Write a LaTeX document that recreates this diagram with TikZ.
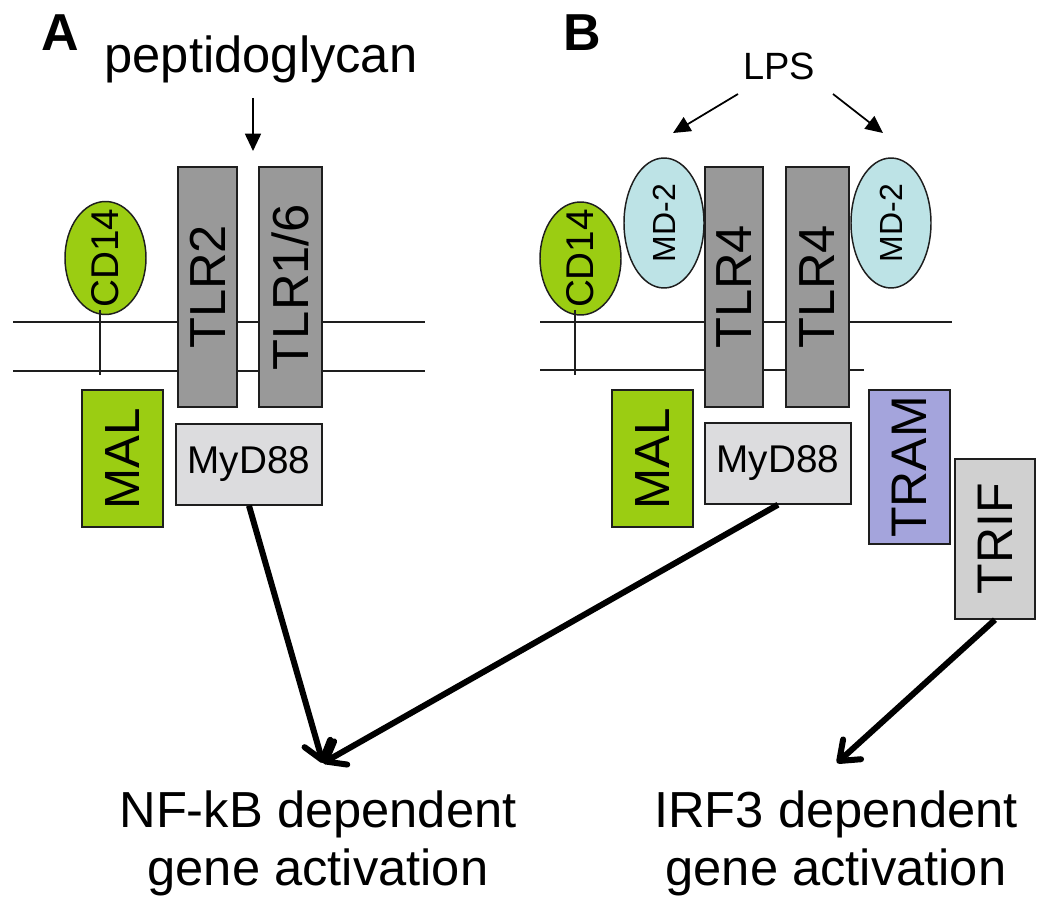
\documentclass[tikz,border=0pt]{standalone}
\usepackage{fontspec}
\setmainfont{Liberation Sans}
\usetikzlibrary{arrows.meta,shapes.geometric}
\definecolor{lime}{RGB}{155,205,18}
\definecolor{tlrgray}{RGB}{153,153,153}
\definecolor{mydgray}{RGB}{220,220,222}
\definecolor{mdcyan}{RGB}{189,227,230}
\definecolor{tramblue}{RGB}{164,164,220}
\definecolor{trifgray}{RGB}{208,208,208}
\definecolor{edge}{RGB}{30,30,30}
\begin{document}
\begin{tikzpicture}[x=0.75pt,y=-0.75pt,
  box/.style={draw=edge,line width=1.1pt,inner sep=0pt,rectangle},
  tlrbox/.style={box,fill=tlrgray,rotate=90,minimum width=180pt,font=\fontsize{38}{40}\selectfont},
  malbox/.style={box,fill=lime,rotate=90,minimum width=102.75pt,minimum height=60.75pt,font=\fontsize{37}{40}\selectfont},
  mydbox/.style={box,fill=mydgray,minimum width=109.5pt,minimum height=60.75pt,font=\fontsize{29}{32}\selectfont},
  cdell/.style={ellipse,draw=edge,line width=1.1pt,inner sep=0pt,fill=lime,rotate=90,minimum width=84.75pt,minimum height=60.75pt,font=\fontsize{29}{32}\selectfont},
  mdell/.style={ellipse,draw=edge,line width=1.1pt,inner sep=0pt,fill=mdcyan,rotate=90,minimum width=97.5pt,minimum height=60pt,font=\fontsize{24}{26}\selectfont},
  mem/.style={line width=1.1pt,draw=edge},
  thinarrow/.style={line width=1.3pt,-{Triangle[length=13pt,width=12pt]}},
  thickarrow/.style={line width=4.5pt,-{Straight Barb[length=13pt,width=20pt,round]}},
  panel/.style={font=\bfseries\fontsize{39}{40}\selectfont,anchor=base},
  bigtext/.style={font=\fontsize{38}{40}\selectfont,anchor=base}
]
\useasboundingbox (0,0) rectangle (1050,916);

% ---------------- Panel A ----------------
\node[panel] (labA) at (60.5,51) {A};
\node[bigtext] (pep) at (261,73) {peptidoglycan};
\coordinate (pepS) at (253,98);
\coordinate (pepE) at (253,151);
\draw[thinarrow] (pepS) -- (pepE);

\coordinate (mAtl) at (13,322);
\coordinate (mAtr) at (425,322);
\coordinate (mAbl) at (13,371);
\coordinate (mAbr) at (425,371);
\draw[mem] (mAtl) -- (mAtr);
\draw[mem] (mAbl) -- (mAbr);

\node[tlrbox,minimum height=44.25pt] (tlr2) at (207.5,287) {TLR2};
\node[tlrbox,minimum height=47.25pt] (tlr16) at (290.5,287) {TLR1/6};
\node[cdell] (cdA) at (105.5,258) {\makebox[0pt]{CD14}};
\draw[mem] (100,310) -- (100,375);
\node[malbox] (malA) at (122.5,458.5) {MAL};
\node[mydbox] (mydA) at (249,464.5) {MyD88};

% ---------------- Panel B ----------------
\node[panel] (labB) at (582,51) {B};
\node[bigtext,font=\fontsize{28.5}{30}\selectfont] (lps) at (779,80) {LPS};
\coordinate (lpsL) at (738,94);
\coordinate (lpsLe) at (673,133);
\coordinate (lpsR) at (833,94);
\coordinate (lpsRe) at (883,133);
\draw[thinarrow] (lpsL) -- (lpsLe);
\draw[thinarrow] (lpsR) -- (lpsRe);

\coordinate (mBtl) at (540,322);
\coordinate (mBtr) at (952,322);
\coordinate (mBbl) at (540,370);
\coordinate (mBbr) at (864,370);
\draw[mem] (mBtl) -- (mBtr);
\draw[mem] (mBbl) -- (mBbr);

\node[mdell] (mdL) at (664,223) {\makebox[0pt]{MD-2}};
\node[mdell] (mdR) at (891,223) {\makebox[0pt]{MD-2}};
\node[tlrbox,minimum height=43.5pt] (tlr4a) at (734,287) {TLR4};
\node[tlrbox,minimum height=47.25pt] (tlr4b) at (817.5,287) {TLR4};
\node[cdell] (cdB) at (580.5,258.5) {\makebox[0pt]{CD14}};
\draw[mem] (575,310) -- (575,375);
\node[malbox] (malB) at (652.5,458.5) {MAL};
\node[mydbox] (mydB) at (778,463.5) {MyD88};
\node[box,fill=tramblue,rotate=90,minimum width=115.5pt,minimum height=60.75pt,font=\fontsize{37.5}{40}\selectfont] (tram) at (909.5,467) {TRAM};
\node[box,fill=trifgray,rotate=90,minimum width=120pt,minimum height=60pt,font=\fontsize{37.5}{40}\selectfont] (trif) at (995,539) {TRIF};

% ---------------- outputs ----------------
\coordinate (nfk) at (323,763);
\coordinate (irf) at (837,763);
\draw[thickarrow] (mydA.south) -- (nfk);
\draw[thickarrow] (mydB.south) -- (nfk);
\draw[thickarrow] (trif.west) -- (irf);

\node[bigtext] (nfk1) at (318,827) {NF-kB dependent};
\node[bigtext] (nfk2) at (318,885) {gene activation};
\node[bigtext] (irf1) at (836,827) {IRF3 dependent};
\node[bigtext] (irf2) at (836,885) {gene activation};
\end{tikzpicture}
\end{document}
